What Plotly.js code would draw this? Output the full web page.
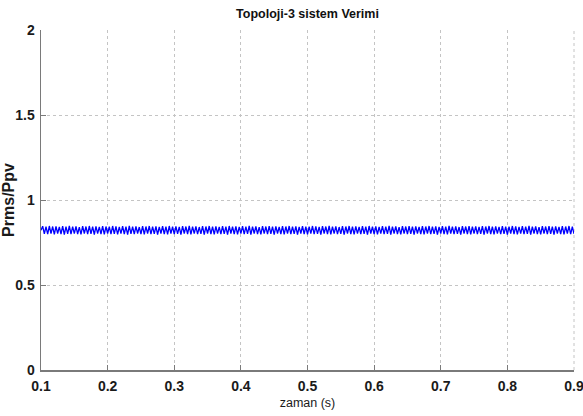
<!DOCTYPE html>
<html>
<head>
<meta charset="utf-8">
<script src="https://cdn.plot.ly/plotly-3.0.1.min.js"></script>
<style>
  html, body { margin: 0; padding: 0; background: #ffffff; }
  #chart { width: 583px; height: 416px; }
</style>
</head>
<body>
<div id="chart"></div>
<script>
// Efficiency ratio Prms/Ppv sampled from t = 0.1 s at a fixed step
const T_START = 0.1;
const T_STEP = 0.0025;

const efficiency = [
  0.822,0.846,0.801,0.843,0.799,0.847,0.802,0.844,0.798,0.845,0.803,0.842,0.800,0.846,0.797,0.844,0.801,0.848,0.799,0.843,
  0.802,0.845,0.800,0.841,0.798,0.846,0.803,0.844,0.799,0.847,0.801,0.843,0.797,0.845,0.802,0.842,0.800,0.846,0.798,0.844,
  0.803,0.843,0.799,0.847,0.801,0.845,0.798,0.842,0.802,0.846,0.800,0.844,0.797,0.848,0.801,0.843,0.799,0.845,0.803,0.841,
  0.800,0.846,0.798,0.844,0.802,0.847,0.799,0.843,0.801,0.845,0.797,0.842,0.803,0.846,0.800,0.844,0.798,0.847,0.802,0.843,
  0.799,0.845,0.801,0.842,0.797,0.846,0.803,0.844,0.800,0.848,0.798,0.843,0.802,0.845,0.799,0.841,0.801,0.846,0.797,0.844,
  0.803,0.847,0.800,0.843,0.798,0.845,0.802,0.842,0.799,0.846,0.801,0.844,0.797,0.847,0.803,0.843,0.800,0.845,0.798,0.842,
  0.802,0.846,0.799,0.844,0.801,0.848,0.797,0.843,0.803,0.845,0.800,0.841,0.798,0.846,0.802,0.844,0.799,0.847,0.801,0.843,
  0.797,0.845,0.803,0.842,0.800,0.846,0.798,0.844,0.802,0.847,0.799,0.843,0.801,0.845,0.797,0.842,0.803,0.846,0.800,0.844,
  0.798,0.843,0.802,0.847,0.799,0.845,0.801,0.842,0.797,0.846,0.803,0.844,0.800,0.848,0.798,0.843,0.802,0.845,0.799,0.841,
  0.801,0.846,0.797,0.844,0.803,0.847,0.800,0.843,0.798,0.845,0.802,0.842,0.799,0.846,0.801,0.844,0.797,0.847,0.803,0.843,
  0.800,0.845,0.798,0.842,0.802,0.846,0.799,0.844,0.801,0.848,0.797,0.843,0.803,0.845,0.800,0.841,0.798,0.846,0.802,0.844,
  0.799,0.847,0.801,0.843,0.797,0.845,0.803,0.842,0.800,0.846,0.798,0.844,0.802,0.847,0.799,0.843,0.801,0.845,0.797,0.842,
  0.803,0.846,0.800,0.844,0.798,0.848,0.802,0.843,0.799,0.845,0.801,0.841,0.797,0.846,0.803,0.844,0.800,0.847,0.798,0.843,
  0.802,0.845,0.799,0.842,0.801,0.846,0.797,0.844,0.803,0.847,0.800,0.843,0.798,0.845,0.802,0.842,0.799,0.846,0.801,0.844,
  0.797,0.843,0.803,0.847,0.800,0.845,0.798,0.842,0.802,0.846,0.799,0.844,0.801,0.848,0.797,0.843,0.803,0.845,0.800,0.841,
  0.798,0.846,0.802,0.844,0.799,0.847,0.801,0.843,0.797,0.845,0.803,0.842,0.800,0.846,0.798,0.844,0.802,0.847,0.799,0.843,
  0.801
];

const xTickVals = [0.1, 0.2, 0.3, 0.4, 0.5, 0.6, 0.7, 0.8, 0.9];
const xTickText = ['0.1', '0.2', '0.3', '0.4', '0.5', '0.6', '0.7', '0.8', '0.9'];
const yTickVals = [0, 0.5, 1, 1.5, 2];
const yTickText = ['0', '0.5', '1', '1.5', '2'];

const FONT = '"Liberation Sans", Arial, sans-serif';
const AXIS_GREY = '#7a7a7a';
const GRID_GREY = '#c4c4c4';

const trace = {
  type: 'scatter',
  mode: 'lines',
  x0: T_START,
  dx: T_STEP,
  y: efficiency,
  line: { color: '#0000ff', width: 1.3 },
  hoverinfo: 'skip'
};

// tiny padding past 0.9 and 2 so the end ticks are kept
const X_RANGE = [0.1, 0.90001];
const Y_RANGE = [0, 2.00001];

const layout = {
  width: 583,
  height: 416,
  margin: { l: 41, r: 9, t: 30, b: 46 },
  paper_bgcolor: '#ffffff',
  plot_bgcolor: '#ffffff',
  showlegend: false,
  title: {
    text: 'Topoloji-3 sistem Verimi',
    font: { family: FONT, size: 12.5, color: '#111111', weight: 'bold' },
    x: 0.5,
    xref: 'paper',
    xanchor: 'center',
    y: 1 - 14 / 416,
    yref: 'container',
    yanchor: 'middle'
  },
  xaxis: {
    range: X_RANGE,
    tickmode: 'array',
    tickvals: xTickVals,
    ticktext: xTickText,
    ticks: 'inside',
    ticklen: 5,
    tickwidth: 1,
    tickcolor: AXIS_GREY,
    showline: true,
    linecolor: AXIS_GREY,
    linewidth: 1.5,
    mirror: false,
    showgrid: true,
    gridcolor: GRID_GREY,
    griddash: 'dot',
    gridwidth: 1,
    zeroline: false,
    tickfont: { family: FONT, size: 14, color: '#1a1a1a', weight: 'bold' },
    ticklabelstandoff: 3,
    ticklabeloverflow: 'allow',
    title: {
      text: 'zaman (s)',
      font: { family: FONT, size: 12.5, color: '#1a1a1a' },
      standoff: 5
    }
  },
  yaxis: {
    range: Y_RANGE,
    tickmode: 'array',
    tickvals: yTickVals,
    ticktext: yTickText,
    ticks: 'inside',
    ticklen: 5,
    tickwidth: 1,
    tickcolor: AXIS_GREY,
    showline: true,
    linecolor: AXIS_GREY,
    linewidth: 1.5,
    mirror: false,
    showgrid: true,
    gridcolor: GRID_GREY,
    griddash: 'dot',
    gridwidth: 1,
    zeroline: false,
    tickfont: { family: FONT, size: 14, color: '#1a1a1a', weight: 'bold' },
    ticklabelstandoff: 2,
    ticklabeloverflow: 'allow',
    title: {
      text: 'Prms/Ppv',
      font: { family: FONT, size: 16, color: '#1a1a1a', weight: 'bold' },
      standoff: 4
    }
  },
  shapes: [
    // dotted right edge of the plotting frame
    {
      type: 'line', xref: 'paper', yref: 'paper',
      x0: 1, x1: 1, y0: 0, y1: 1,
      line: { color: GRID_GREY, width: 1, dash: 'dot' },
      layer: 'below'
    }
  ]
};

Plotly.newPlot('chart', [trace], layout, { staticPlot: true, displayModeBar: false });
</script>
</body>
</html>
